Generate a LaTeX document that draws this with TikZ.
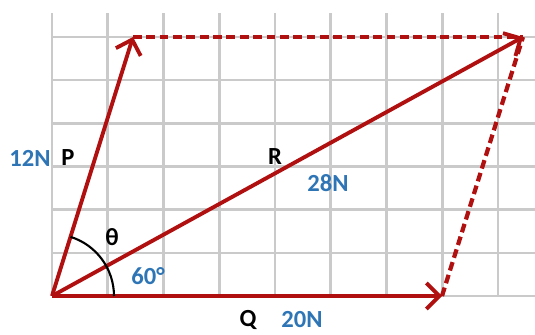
\documentclass[tikz,border=0pt]{standalone}
\usepackage{fontspec}
\setmainfont{Carlito}
\usepackage{tikz}
\usetikzlibrary{arrows.meta}
\definecolor{force}{HTML}{B01010}
\definecolor{magn}{HTML}{2E75B6}
\definecolor{gridc}{HTML}{CACACA}

\begin{document}
\begin{tikzpicture}[x=0.02cm, y=0.02cm,
  vec/.style={-{Straight Barb[length=2.6mm, width=5.2mm]}, line width=2.2pt, force},
  comp/.style={line width=2.4pt, force, dash pattern=on 5pt off 2.6pt},
  lab/.style={font=\bfseries\fontsize{14}{16}\selectfont, text=black, inner sep=0pt},
  val/.style={font=\bfseries\fontsize{14}{16}\selectfont, text=magn, inner sep=0pt}
]
  \useasboundingbox (0,0) rectangle (535,335);
  % grid
  \foreach \i in {0,...,8}
    \draw[gridc, line width=1.5pt] ({52+55.75*\i},39) -- ({52+55.75*\i},322);
  \foreach \j in {0,...,6}
    \draw[gridc, line width=1.5pt] (52,{39+43.17*\j}) -- (535,{39+43.17*\j});

  \coordinate (o) at (52,39);
  \coordinate (p) at (133,298);
  \coordinate (q) at (442,39);
  \coordinate (r) at (523,298);

  % completing sides
  \draw[comp] (p) -- (r);
  \draw[comp] (q) -- (r);

  % vectors
  \draw[vec] (o) -- (p);
  \draw[vec] (o) -- (q);
  \draw[vec] (o) -- (r);

  % angle
  \draw[line width=1.2pt] ([xshift=1.24cm]o) arc[start angle=0, end angle=72.6, radius=1.24cm];

  \node[val] (vp) at (30,177) {12N};
  \node[lab] (lp) at (68,177) {P};
  \node[lab] (lr) at (275,178) {R};
  \node[val] (vr) at (328,152) {28N};
  \node[lab] (th) at (112,98) {θ};
  \node[val] (ang) at (148,59) {60°};
  \node[lab] (lq) at (248,15) {Q};
  \node[val] (vq) at (302,15) {20N};
\end{tikzpicture}
\end{document}
